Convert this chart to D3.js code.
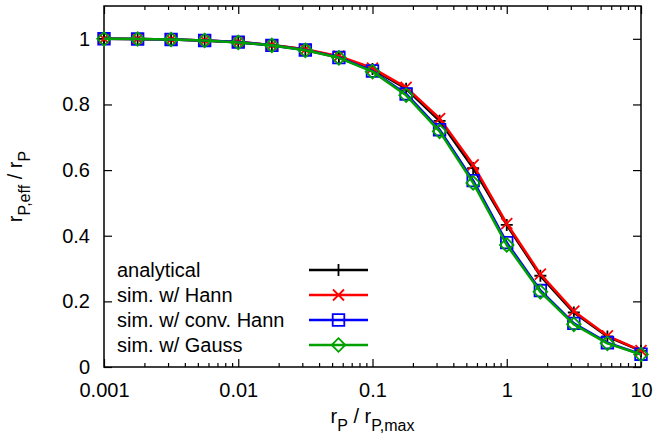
<!DOCTYPE html>
<html>
<head>
<meta charset="utf-8">
<script src="https://cdn.jsdelivr.net/npm/d3@7"></script>
<style>
  html, body { margin: 0; padding: 0; background: #fff; }
  svg { display: block; }
  text { font-family: "Liberation Sans", Arial, Helvetica, sans-serif; fill: #000; }
</style>
</head>
<body>
<svg id="chart" width="657" height="438"></svg>
<script>
// r_P / r_P,max sample positions (quarter-decade steps from 0.001 to 10)
const rRatio = [0.001, 0.00178, 0.00316, 0.00562, 0.01, 0.0178, 0.0316, 0.0562,
                0.1, 0.178, 0.316, 0.562, 1, 1.78, 3.16, 5.62, 10];

// r_P,eff / r_P for each curve
const analytical = [1.000, 0.9995, 0.998, 0.995, 0.990, 0.981, 0.967, 0.945,
                    0.908, 0.848, 0.750, 0.606, 0.433, 0.278, 0.166, 0.093, 0.049];
const simHann    = [1.000, 0.9995, 0.998, 0.995, 0.990, 0.981, 0.968, 0.947,
                    0.911, 0.852, 0.757, 0.616, 0.437, 0.283, 0.170, 0.095, 0.050];
const simConvHann= [1.000, 0.9995, 0.998, 0.995, 0.990, 0.980, 0.966, 0.943,
                    0.902, 0.832, 0.723, 0.568, 0.379, 0.233, 0.133, 0.074, 0.039];
const simGauss   = [1.000, 0.9995, 0.998, 0.995, 0.989, 0.980, 0.965, 0.942,
                    0.900, 0.828, 0.718, 0.561, 0.372, 0.229, 0.130, 0.072, 0.038];

const seriesNames = ["analytical", "sim. w/ Hann", "sim. w/ conv. Hann", "sim. w/ Gauss"];
const seriesValues = [analytical, simHann, simConvHann, simGauss];
const seriesColors = ["#000000", "#ff0000", "#0000ff", "#00a000"];
const seriesMarkers = ["plus", "cross", "square", "diamond"];

const xMajorTicks = [0.001, 0.01, 0.1, 1, 10];
const xTickLabels = ["0.001", "0.01", "0.1", "1", "10"];
const yTicks = [0, 0.2, 0.4, 0.6, 0.8, 1];
const yTickLabels = ["0", "0.2", "0.4", "0.6", "0.8", "1"];

const svg = d3.select("#chart");
const plotL = 104, plotR = 641, plotT = 6, plotB = 367;

const x = d3.scaleLog().domain([0.001, 10]).range([plotL, plotR]);
const y = d3.scaleLinear().domain([0, 1.1]).range([plotB, plotT]);

const xMinor = x.ticks().filter(v => !xMajorTicks.some(m => Math.abs(m - v) / m < 1e-9));

function styleAxis(g) {
  g.select(".domain").remove();
  g.selectAll(".tick line").attr("stroke", "#000").attr("stroke-width", 1.2);
  g.selectAll("text").attr("font-size", 20).attr("font-family", "Liberation Sans, Arial, sans-serif").attr("fill", "#000");
}

// bottom axis: major ticks with labels, inward
svg.append("g").attr("transform", `translate(0,${plotB})`)
  .call(d3.axisBottom(x).tickValues(xMajorTicks).tickSize(-8).tickPadding(16)
        .tickFormat((d, i) => xTickLabels[i]))
  .call(styleAxis);
svg.append("g").attr("transform", `translate(0,${plotB})`)
  .call(d3.axisBottom(x).tickValues(xMinor).tickSize(-4).tickFormat(""))
  .call(styleAxis);
// top axis (mirrored ticks)
svg.append("g").attr("transform", `translate(0,${plotT})`)
  .call(d3.axisTop(x).tickValues(xMajorTicks).tickSize(-8).tickFormat(""))
  .call(styleAxis);
svg.append("g").attr("transform", `translate(0,${plotT})`)
  .call(d3.axisTop(x).tickValues(xMinor).tickSize(-4).tickFormat(""))
  .call(styleAxis);
// left axis
svg.append("g").attr("transform", `translate(${plotL},0)`)
  .call(d3.axisLeft(y).tickValues(yTicks).tickSize(-8).tickPadding(14)
        .tickFormat((d, i) => yTickLabels[i]))
  .call(styleAxis);
// right axis (mirrored ticks)
svg.append("g").attr("transform", `translate(${plotR},0)`)
  .call(d3.axisRight(y).tickValues(yTicks).tickSize(-8).tickFormat(""))
  .call(styleAxis);

// frame
svg.append("rect")
  .attr("x", plotL).attr("y", plotT)
  .attr("width", plotR - plotL).attr("height", plotB - plotT)
  .attr("fill", "none").attr("stroke", "#000").attr("stroke-width", 1.5);

// marker path generators
function markerPath(type) {
  switch (type) {
    case "plus":    { const s = 6; return `M${-s},0H${s}M0,${-s}V${s}`; }
    case "cross":   { const s = 5.5; return `M${-s},${-s}L${s},${s}M${-s},${s}L${s},${-s}`; }
    case "square":  { const s = 5.8; return `M${-s},${-s}H${s}V${s}H${-s}Z`; }
    case "diamond": { const s = 6.8; return `M0,${-s}L${s},0L0,${s}L${-s},0Z`; }
  }
}

const line = d3.line().x(d => x(d[0])).y(d => y(d[1]));

// curves, drawn in order so later series sit on top
seriesValues.forEach((vals, i) => {
  const pts = rRatio.map((r, j) => [r, vals[j]]);
  const g = svg.append("g");
  g.append("path").datum(pts)
    .attr("d", line)
    .attr("fill", "none")
    .attr("stroke", seriesColors[i])
    .attr("stroke-width", 2.6)
    .attr("stroke-linejoin", "round");
  g.selectAll("path.mk").data(pts).join("path")
    .attr("class", "mk")
    .attr("transform", d => `translate(${x(d[0])},${y(d[1])})`)
    .attr("d", markerPath(seriesMarkers[i]))
    .attr("fill", "none")
    .attr("stroke", seriesColors[i])
    .attr("stroke-width", 1.8);
});

// legend
const legX = 117, legLineX0 = 309, legLineX1 = 368, legY0 = 270, legDy = 25;
seriesNames.forEach((name, i) => {
  const yy = legY0 + i * legDy;
  svg.append("text").attr("x", legX).attr("y", yy).attr("dy", "0.35em")
    .attr("font-size", 20).text(name);
  svg.append("line")
    .attr("x1", legLineX0).attr("x2", legLineX1).attr("y1", yy).attr("y2", yy)
    .attr("stroke", seriesColors[i]).attr("stroke-width", 2.6);
  svg.append("path")
    .attr("transform", `translate(${(legLineX0 + legLineX1) / 2},${yy})`)
    .attr("d", markerPath(seriesMarkers[i]))
    .attr("fill", "none").attr("stroke", seriesColors[i]).attr("stroke-width", 1.8);
});

// axis titles with subscripts
const xTitle = svg.append("text")
  .attr("x", (plotL + plotR) / 2).attr("y", 423)
  .attr("text-anchor", "middle").attr("font-size", 20);
xTitle.append("tspan").text("r");
xTitle.append("tspan").attr("font-size", 16).attr("dy", 8).text("P");
xTitle.append("tspan").attr("dy", -8).text(" / r");
xTitle.append("tspan").attr("font-size", 16).attr("dy", 8).text("P,max");

const yTitle = svg.append("text")
  .attr("transform", `translate(22,${(plotT + plotB) / 2}) rotate(-90)`)
  .attr("text-anchor", "middle").attr("font-size", 20);
yTitle.append("tspan").text("r");
yTitle.append("tspan").attr("font-size", 16).attr("dy", 8).text("P,eff");
yTitle.append("tspan").attr("dy", -8).text(" / r");
yTitle.append("tspan").attr("font-size", 16).attr("dy", 8).text("P");
</script>
</body>
</html>
